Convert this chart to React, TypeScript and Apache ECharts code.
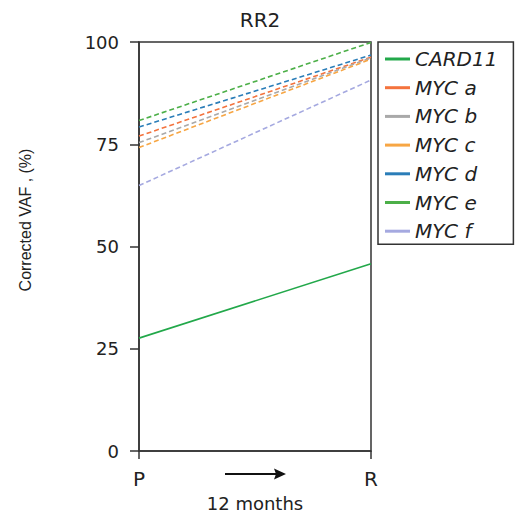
import React, { useEffect, useRef } from "react";
import * as echarts from "echarts";

const timepoints = ["P", "R"];
const seriesNames = ["CARD11", "MYC a", "MYC b", "MYC c", "MYC d", "MYC e", "MYC f"];
const card11 = [27.6, 45.8];
const mycA = [77.0, 96.3];
const mycB = [75.4, 96.1];
const mycC = [74.2, 95.8];
const mycD = [79.2, 96.8];
const mycE = [80.8, 99.9];
const mycF = [64.9, 90.7];
const seriesValues = [card11, mycA, mycB, mycC, mycD, mycE, mycF];
const seriesColors = ["#22a84a", "#f4733d", "#a9a9a9", "#f7a644", "#2a7db8", "#4caf48", "#a5a9e0"];
const seriesDashed = [false, true, true, true, true, true, true];
const yTicks = { min: 0, max: 100, interval: 25 };

const FONT = "'DejaVu Sans', 'Liberation Sans', Arial, sans-serif";
const TXT = "#222";

export default function App() {
  const ref = useRef<HTMLDivElement>(null);
  useEffect(() => {
    if (!ref.current) return;
    const chart = echarts.init(ref.current, null, { renderer: "svg" });
    chart.setOption({
      animation: false,
      backgroundColor: "#fff",
      title: {
        text: "RR2",
        left: 255,
        top: 5,
        textAlign: "center",
        textStyle: { fontFamily: FONT, fontSize: 20, fontWeight: "normal", color: TXT },
      },
      grid: {
        left: 139,
        right: 150,
        top: 42,
        bottom: 59,
        show: true,
        borderColor: "#333",
        borderWidth: 1.5,
      },
      legend: {
        orient: "vertical",
        left: 378,
        top: 42,
        data: seriesNames,
        icon: "rect",
        itemWidth: 25,
        itemHeight: 3,
        itemGap: 8.7,
        itemTextGap: 9,
        itemStyle: { borderWidth: 0 },
        padding: [7, 16, 3, 7],
        borderColor: "#333",
        borderWidth: 1.5,
        textStyle: {
          fontFamily: FONT,
          fontStyle: "italic",
          fontSize: 20,
          lineHeight: 20,
          color: TXT,
        },
      },
      xAxis: {
        type: "category",
        data: timepoints,
        boundaryGap: false,
        name: "12 months",
        nameLocation: "middle",
        nameGap: 43,
        nameTextStyle: { fontFamily: FONT, fontSize: 18, color: TXT },
        axisLine: { lineStyle: { color: "#333", width: 1.5 } },
        axisTick: { show: true, length: 8, lineStyle: { color: "#333", width: 1.5 } },
        axisLabel: { fontFamily: FONT, fontSize: 20, color: TXT, margin: 18 },
        splitLine: { show: false },
      },
      yAxis: {
        type: "value",
        min: yTicks.min,
        max: yTicks.max,
        interval: yTicks.interval,
        axisLine: { show: true, lineStyle: { color: "#333", width: 1.5 } },
        axisTick: { show: true, length: 9, lineStyle: { color: "#333", width: 1.5 } },
        axisLabel: { fontFamily: FONT, fontSize: 18, color: TXT, margin: 20 },
        splitLine: { show: false },
      },
      graphic: [
        {
          type: "text",
          x: 25,
          y: 220,
          rotation: Math.PI / 2,
          style: {
            text: "Corrected VAF , (%)",
            fontFamily: "'Liberation Sans', Arial, sans-serif",
            fontSize: 16,
            fill: TXT,
            align: "center",
            verticalAlign: "middle",
          },
        },
        {
          type: "line",
          shape: { x1: 225, y1: 474, x2: 278, y2: 474 },
          style: { stroke: "#111", lineWidth: 2 },
        },
        {
          type: "polygon",
          shape: { points: [[286, 474], [274, 468.5], [276, 474], [274, 479.5]] },
          style: { fill: "#111" },
        },
      ],
      series: seriesNames.map((name, i) => ({
        name,
        type: "line",
        data: seriesValues[i],
        symbol: "none",
        color: seriesColors[i],
        lineStyle: {
          color: seriesColors[i],
          width: 1.6,
          type: seriesDashed[i] ? [5, 3] : "solid",
        },
      })),
    });
    return () => chart.dispose();
  }, []);
  return (
    <div
      ref={ref}
      style={{ position: "fixed", left: 0, top: 0, width: 521, height: 517 }}
    />
  );
}
